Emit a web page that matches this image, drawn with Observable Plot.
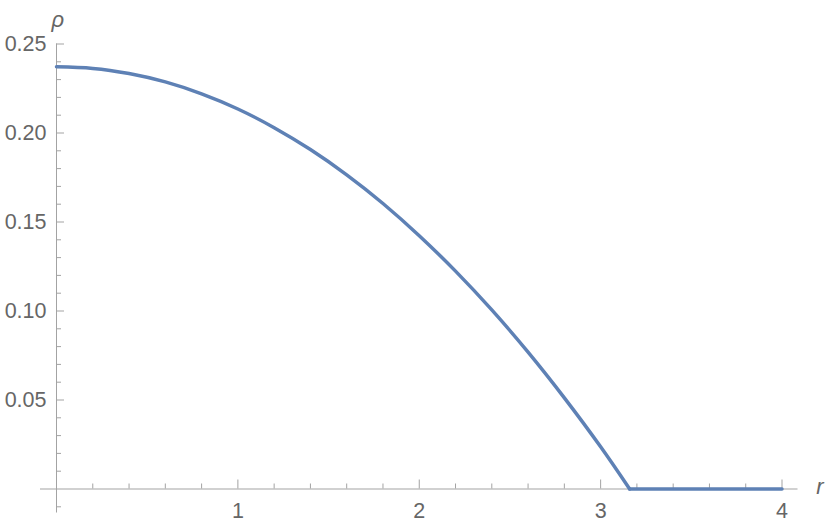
<!DOCTYPE html>
<html>
<head>
<meta charset="utf-8">
<script src="https://cdn.jsdelivr.net/npm/d3@7"></script>
<script src="https://cdn.jsdelivr.net/npm/@observablehq/plot@0.6"></script>
<style>
  html, body { margin: 0; padding: 0; background: #fff; }
  #chart svg { display: block; }
</style>
</head>
<body>
<div id="chart"></div>
<script>
// Curve values
const rValues   = [0, 0.2, 0.4, 0.6, 0.8, 1.0, 1.2, 1.4, 1.6, 1.8, 2.0, 2.2, 2.4, 2.6, 2.8, 3.0, 3.16, 3.6, 4.0];
const rhoValues = [0.2372, 0.2363, 0.2334, 0.2287, 0.2220, 0.2135, 0.2030, 0.1907, 0.1765, 0.1604, 0.1423, 0.1224, 0.1006, 0.0769, 0.0512, 0.0237, 0, 0, 0];

// Tick labels
const xTickValues = [1, 2, 3, 4];
const xTickLabels = ["1", "2", "3", "4"];
const yTickValues = [0.05, 0.10, 0.15, 0.20, 0.25];
const yTickLabels = ["0.05", "0.10", "0.15", "0.20", "0.25"];
const xMinorTicks = d3.range(1, 20).map(i => i * 0.2).filter(v => Math.abs(v - Math.round(v)) > 1e-6);
const yMinorTicks = d3.range(-1, 25).map(i => i * 0.01).filter(v => Math.abs(v * 20 - Math.round(v * 20)) > 1e-6);

const data = rValues.map((r, i) => ({r, rho: rhoValues[i]}));
const zeroIndex = rhoValues.indexOf(0);
const curvedPart = data.slice(0, zeroIndex + 1);
const flatPart = data.slice(zeroIndex);

const axisColor = "#a3a3a3";
const textColor = "#666666";
const font = "'Liberation Sans', Arial, sans-serif";

const xPerPx = 4 / (781.5 - 56);
const yPerPx = 0.25 / (488.5 - 43.5);

const chart = Plot.plot({
  width: 830,
  height: 528,
  style: {fontFamily: font, background: "#fff"},
  x: {domain: [0, 4], range: [56, 781.5], axis: null},
  y: {domain: [0, 0.25], range: [488.5, 43.5], axis: null},
  marks: [
    // axis lines
    Plot.ruleY([0], {x1: -16 * xPerPx, x2: 4 + 16 * xPerPx, stroke: axisColor, strokeWidth: 1}),
    Plot.ruleX([0], {y1: -24 * yPerPx, y2: 0.25, stroke: axisColor, strokeWidth: 1}),
    // x ticks (pointing up)
    Plot.ruleX(xTickValues, {y1: 0, y2: 9 * yPerPx, stroke: axisColor}),
    Plot.ruleX(xMinorTicks, {y1: 0, y2: 5 * yPerPx, stroke: axisColor}),
    // y ticks (pointing right)
    Plot.ruleY(yTickValues, {x1: 0, x2: 8 * xPerPx, stroke: axisColor}),
    Plot.ruleY(yMinorTicks, {x1: 0, x2: 5 * xPerPx, stroke: axisColor}),
    // tick labels
    Plot.text(xTickValues, {x: d => d, y: 0, text: (d, i) => xTickLabels[i], dy: 22, fill: textColor, fontSize: 21.5, textAnchor: "middle"}),
    Plot.text(yTickValues, {x: 0, y: d => d, text: (d, i) => yTickLabels[i], dx: -10, fill: textColor, fontSize: 21.5, textAnchor: "end"}),
    // axis labels
    Plot.text(["ρ"], {x: 0, y: 0.25, dx: -5, dy: -24, fill: textColor, fontSize: 22, fontStyle: "italic", textAnchor: "start"}),
    Plot.text(["r"], {x: 4, y: 0, dx: 38, dy: -2, fill: textColor, fontSize: 22, fontStyle: "italic", textAnchor: "middle"}),
    // curve
    Plot.line(curvedPart, {x: "r", y: "rho", stroke: "#5E81B5", strokeWidth: 3.5, curve: "natural"}),
    Plot.line(flatPart, {x: "r", y: "rho", stroke: "#5E81B5", strokeWidth: 3.5, curve: "linear"})
  ]
});
document.getElementById("chart").appendChild(chart);
</script>
</body>
</html>
